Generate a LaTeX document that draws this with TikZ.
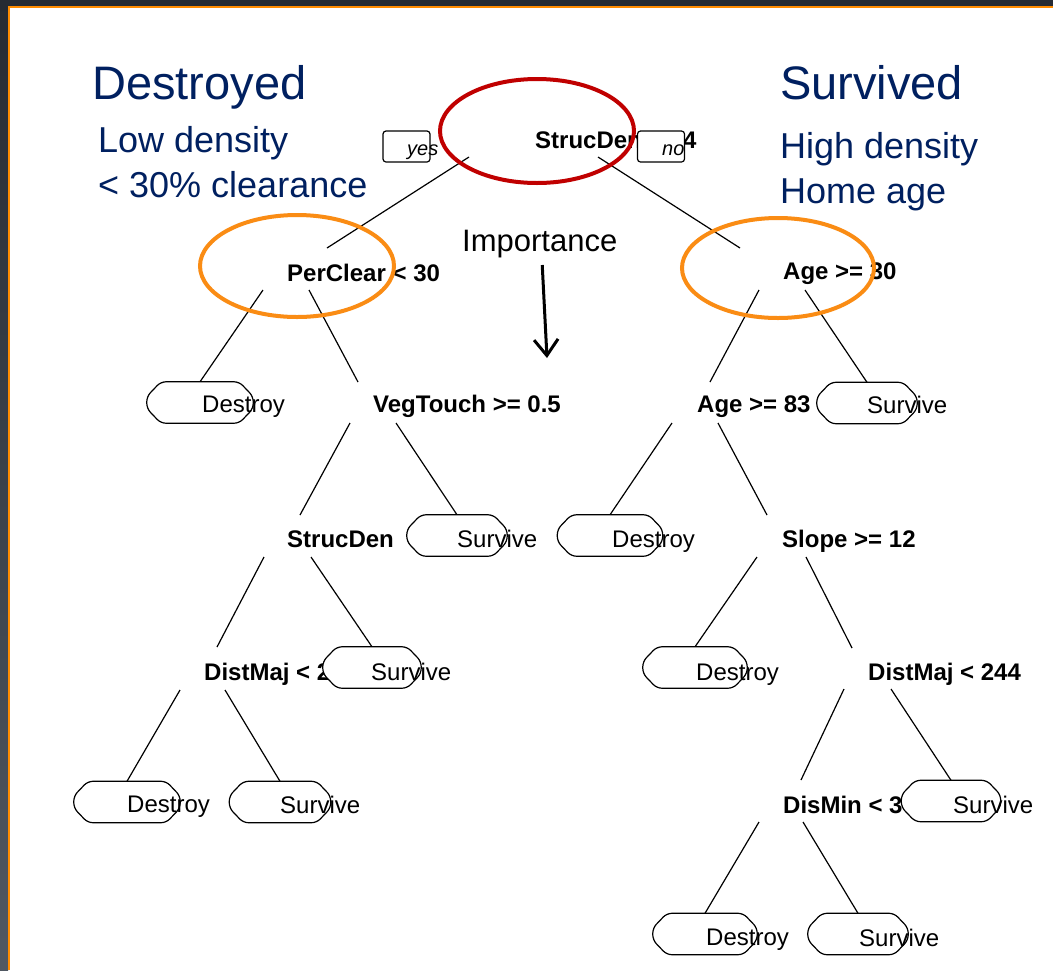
\documentclass[tikz,border=0pt]{standalone}
\usepackage{fontspec}
\setmainfont{Liberation Sans}
\usetikzlibrary{arrows.meta,shapes.geometric,calc}
\definecolor{navy}{RGB}{0,32,96}
\definecolor{frameorange}{RGB}{255,140,0}
\definecolor{ringorange}{RGB}{250,140,20}
\definecolor{ringred}{RGB}{192,0,0}
\definecolor{darkframe}{RGB}{38,43,51}
\definecolor{darkframeb}{RGB}{80,88,98}
\newcommand\leafbox[4]{%
  \node[minimum width=#4pt, minimum height=41pt, inner sep=0pt] (#1) at (#2,#3) {};
  \draw[boxline] ([xshift=14pt]#1.north west) -- ([xshift=-14pt]#1.north east)
    -- ([yshift=6pt]#1.east) -- ([yshift=-6pt]#1.east)
    -- ([xshift=-14pt]#1.south east) -- ([xshift=14pt]#1.south west)
    -- ([yshift=-6pt]#1.west) -- ([yshift=6pt]#1.west) -- cycle;}
\begin{document}
\begin{tikzpicture}[x=1pt,y=-1pt,
  split/.style={font=\fontsize{24}{28}\selectfont\bfseries, anchor=base west, inner sep=0pt},
  leaftext/.style={font=\fontsize{24}{28}\selectfont, anchor=base west, inner sep=0pt},
  boxline/.style={draw=black, fill=white, line width=1.2pt, rounded corners=5pt},
  edge/.style={draw=black, line width=1.2pt},
  tagbox/.style={draw=black, fill=white, line width=1.2pt, rounded corners=3pt, minimum width=47pt, minimum height=31pt, inner sep=0pt},
  tagtext/.style={font=\fontsize{20}{24}\selectfont\itshape, anchor=base west, inner sep=0pt},
  ring/.style={draw, ellipse, line width=4pt, inner sep=0pt},
  head/.style={font=\fontsize{47}{52}\selectfont, text=navy, anchor=base west, inner sep=0pt},
  sub/.style={font=\fontsize{36}{40}\selectfont, text=navy, anchor=base west, inner sep=0pt},
  imparrow/.style={draw=black, line width=3pt, -{Straight Barb[length=16pt,width=24pt,line width=3pt]}}
]
\useasboundingbox (0,0) rectangle (1053,970);
% frame
\fill[darkframe] (0,0) rectangle (1053,6);
\shade[top color=darkframe, bottom color=darkframeb] (0,0) rectangle (8,970);
\fill[frameorange] (8,6) rectangle (1053,8);
\fill[frameorange] (8,6) rectangle (10,970);
\fill[white] (10,8) rectangle (1053,970);

% split labels
\node[split] (rt) at (535,148) {StrucDen >= 4};
\node[split] (pc) at (287,281) {PerClear < 30};
\node[split] (a30) at (783,279) {Age >= 30};
\node[split] (vt) at (373,412) {VegTouch >= 0.5};
\node[split] (a83) at (697,412) {Age >= 83};
\node[split] (sd) at (287,547) {StrucDen};
\node[split] (sl) at (782,547) {Slope >= 12};
\node[split] (dm) at (204,680) {DistMaj < 2};
\node[split] (d244) at (868,680) {DistMaj < 244};
\node[split] (dmin) at (783,813) {DisMin < 3};

% connectors (leaf box nodes defined first for names)
\foreach \n/\x/\y/\w in {ld1/200/402.5/106, ls0/867/403/100, ls1/457/535.5/100, ld2/610/535.5/105,
  ls2/372/667.5/98, ld3/695/667.5/104, ld4/127/802/106, ls3/280/802/101, ls4/951/801/99,
  ld5/705/934/104, ls5/858/934/100}
  {\node[minimum width=\w pt, minimum height=41pt, inner sep=0pt] (\n) at (\x,\y) {};}

\draw[edge] ($(rt.base west)+(-66,9)$) -- ($(pc.base west)+(40,-33)$);
\draw[edge] ($(rt.base west)+(63,9)$) -- ($(a30.base west)+(-43,-31)$);
\draw[edge] ($(pc.base west)+(-24,9)$) -- (ld1.north);
\draw[edge] ($(pc.base west)+(22,9)$) -- ($(vt.base west)+(-15,-30)$);
\draw[edge] ($(a30.base west)+(-24,11)$) -- ($(a83.base west)+(13,-30)$);
\draw[edge] ($(a30.base west)+(22,11)$) -- (ls0.north);
\draw[edge] ($(vt.base west)+(-23,11)$) -- ($(sd.base west)+(13,-32)$);
\draw[edge] ($(vt.base west)+(23,11)$) -- (ls1.north);
\draw[edge] ($(a83.base west)+(-25,11)$) -- (ld2.north);
\draw[edge] ($(a83.base west)+(21,11)$) -- ($(sl.base west)+(-15,-32)$);
\draw[edge] ($(sd.base west)+(-23,10)$) -- ($(dm.base west)+(13,-33)$);
\draw[edge] ($(sd.base west)+(24,10)$) -- (ls2.north);
\draw[edge] ($(sl.base west)+(-25,10)$) -- (ld3.north);
\draw[edge] ($(sl.base west)+(24,10)$) -- ($(d244.base west)+(-16,-32)$);
\draw[edge] ($(dm.base west)+(-24,10)$) -- (ld4.north);
\draw[edge] ($(dm.base west)+(21,10)$) -- (ls3.north);
\draw[edge] ($(d244.base west)+(-24,9)$) -- ($(dmin.base west)+(18,-33)$);
\draw[edge] ($(d244.base west)+(23,9)$) -- (ls4.north);
\draw[edge] ($(dmin.base west)+(-24,9)$) -- (ld5.north);
\draw[edge] ($(dmin.base west)+(20,9)$) -- (ls5.north);

% leaf boxes over connectors
\leafbox{ld1}{200}{402.5}{106}
\leafbox{ls0}{867}{403}{100}
\leafbox{ls1}{457}{535.5}{100}
\leafbox{ld2}{610}{535.5}{105}
\leafbox{ls2}{372}{667.5}{98}
\leafbox{ld3}{695}{667.5}{104}
\leafbox{ld4}{127}{802}{106}
\leafbox{ls3}{280}{802}{101}
\leafbox{ls4}{951}{801}{99}
\leafbox{ld5}{705}{934}{104}
\leafbox{ls5}{858}{934}{100}

% leaf texts
\node[leaftext] (tld1) at (202,412) {Destroy};
\node[leaftext] (tls0) at (867,413) {Survive};
\node[leaftext] (tls1) at (457,547) {Survive};
\node[leaftext] (tld2) at (612,547) {Destroy};
\node[leaftext] (tls2) at (371,680) {Survive};
\node[leaftext] (tld3) at (696,680) {Destroy};
\node[leaftext] (tld4) at (127,812) {Destroy};
\node[leaftext] (tls3) at (280,813) {Survive};
\node[leaftext] (tls4) at (953,813) {Survive};
\node[leaftext] (tld5) at (706,945) {Destroy};
\node[leaftext] (tls5) at (859,946) {Survive};

% yes / no tags
\node[tagbox] (yesbox) at (406.5,146.5) {};
\node[tagtext] (yes) at (407,155) {yes};
\node[tagbox] (nobox) at (661,146.5) {};
\node[tagtext] (no) at (662,155) {no};

% highlight rings
\node[ring, draw=ringred, minimum width=194pt, minimum height=104pt] (redring) at (537,131) {};
\node[ring, draw=ringorange, minimum width=194pt, minimum height=102pt] (ringl) at (297,266) {};
\node[ring, draw=ringorange, minimum width=192pt, minimum height=100pt] (ringr) at (778,268) {};

% importance arrow
\node[font=\fontsize{31}{36}\selectfont, anchor=base west, inner sep=0pt] (imp) at (462,251) {Importance};
\coordinate (impend) at (547,358);
\draw[imparrow] ($(imp.base)+(2.5,14)$) -- (impend);

% headings
\node[head] (hd) at (92,99) {Destroyed};
\node[sub] (hd1) at (98,152) {Low density};
\node[sub] (hd2) at (98,197) {< 30\% clearance};
\node[head] (hs) at (780,99) {Survived};
\node[sub] (hs1) at (780,158) {High density};
\node[sub] (hs2) at (780,203) {Home age};
\end{tikzpicture}
\end{document}
